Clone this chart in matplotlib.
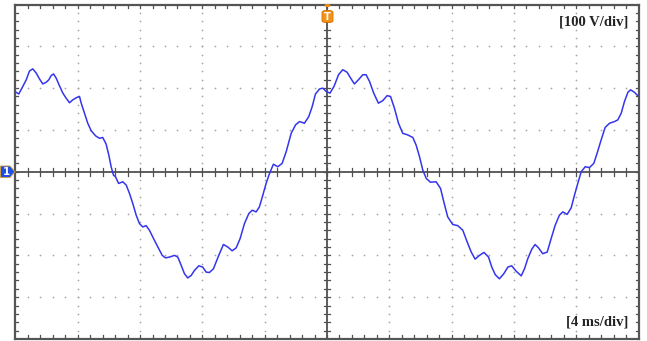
import numpy as np
import matplotlib
matplotlib.use("Agg")
import matplotlib.pyplot as plt
from matplotlib.patches import Polygon, Circle, FancyBboxPatch

# Captured phase voltage trace: time (ms) and voltage (V)
time_ms = [
    0.04, 0.21, 0.47, 0.69, 0.90, 1.11, 1.33, 1.54, 1.75, 1.97, 2.14, 2.29, 2.44, 2.61,
    2.82, 3.04, 3.25, 3.47, 3.68, 3.90, 4.11, 4.22, 4.43, 4.64, 4.86, 5.14, 5.39, 5.60,
    5.82, 5.99, 6.14, 6.29, 6.42, 6.62, 6.89, 7.11, 7.32, 7.53, 7.75, 7.96, 8.17, 8.39,
    8.60, 8.92, 9.20, 9.42, 9.63, 9.89, 10.21, 10.42, 10.64, 10.85, 11.06, 11.28, 11.49,
    11.77, 12.02, 12.24, 12.45, 12.71, 13.05, 13.35, 13.63, 13.91, 14.17, 14.42, 14.70,
    14.98, 15.20, 15.45, 15.66, 15.88, 16.09, 16.31, 16.56, 16.84, 17.12, 17.38, 17.70,
    17.98, 18.23, 18.55, 18.83, 19.05, 19.26, 19.52, 19.73, 19.95, 20.19, 20.45, 20.74,
    21.01, 21.29, 21.55, 21.76, 22.02, 22.30, 22.51, 22.73, 23.00, 23.30, 23.58, 23.86,
    24.08, 24.33, 24.59, 24.86, 25.19, 25.51, 25.72, 25.94, 26.15, 26.37, 26.64, 27.01,
    27.29, 27.50, 27.75, 28.07, 28.40, 28.72, 29.00, 29.26, 29.51, 29.79, 30.08, 30.37,
    30.58, 30.80, 31.07, 31.35, 31.61, 31.86, 32.15, 32.47, 32.68, 32.89, 33.15, 33.36,
    33.58, 33.85, 34.14, 34.39, 34.65, 34.92, 35.14, 35.42, 35.68, 35.89, 36.10, 36.32,
    36.58, 36.85, 37.13, 37.34, 37.60, 37.86, 38.14, 38.46, 38.67, 38.89, 39.10, 39.32,
    39.49, 39.74, 39.95,
]
voltage_v = [
    190, 186, 204, 220, 241, 246, 236, 222, 210, 214, 220, 230, 234, 224,
    206, 188, 176, 165, 172, 177, 180, 164, 140, 116, 98, 86, 80, 82,
    66, 40, 12, -8, -12, -28, -24, -32, -52, -76, -104, -124, -132, -129,
    -140, -164, -184, -200, -206, -204, -200, -204, -224, -244, -254, -248, -236,
    -225, -228, -240, -241, -232, -200, -174, -180, -189, -182, -160, -124,
    -100, -92, -96, -84, -56, -28, -4, 18, 12, 20, 48, 92,
    112, 120, 116, 132, 156, 186, 198, 200, 192, 188, 204, 232,
    244, 238, 222, 210, 220, 232, 232, 216, 188, 164, 170, 182,
    180, 152, 116, 92, 88, 82, 64, 36, 4, -16, -25, -24,
    -40, -72, -108, -126, -129, -140, -168, -192, -209, -200, -193, -204,
    -228, -246, -256, -244, -228, -225, -238, -249, -232, -208, -185, -174,
    -182, -196, -192, -160, -128, -104, -96, -102, -86, -56, -28, 0,
    12, 10, 20, 44, 76, 106, 116, 120, 124, 140, 168, 190,
    196, 190, 182,
]

volts_per_div = 100
ms_per_div = 4
n_hdiv, n_vdiv = 10, 8
scale_labels = ["[100 V/div]", "[4 ms/div]"]

W, H = 647, 341
fig = plt.figure(figsize=(W / 100, H / 100), dpi=100)
fig.patch.set_facecolor("white")

left_px, right_px, top_px, bottom_px = 15.5, 638.5, 4.5, 339.0
ax = fig.add_axes([left_px / W, 1 - bottom_px / H,
                   (right_px - left_px) / W, (bottom_px - top_px) / H])
t_max = n_hdiv * ms_per_div
v_max = n_vdiv / 2 * volts_per_div
ax.set_xlim(0, t_max)
ax.set_ylim(-v_max, v_max)
ax.set_xticks([])
ax.set_yticks([])
for sp in ax.spines.values():
    sp.set_color("#555555")
    sp.set_linewidth(1.6)

grid_col = "#a8a8a8"
hstep = ms_per_div / 5
vstep = volts_per_div / 5

# Dotted graticule
gx, gy = [], []
for k in range(1, n_hdiv):
    if k == n_hdiv // 2:
        continue
    xv = k * ms_per_div
    for y in np.arange(-v_max + vstep, v_max, vstep):
        gx.append(xv)
        gy.append(y)
for k in range(1, n_vdiv):
    if k == n_vdiv // 2:
        continue
    yv = -v_max + k * volts_per_div
    for x in np.arange(hstep, t_max, hstep):
        gx.append(x)
        gy.append(yv)
ax.scatter(gx, gy, s=1.6, color=grid_col, linewidths=0, zorder=1)

# Centre cross with minor ticks
axis_col = "#505050"
ax.axhline(0, color=axis_col, lw=1.3, zorder=2)
ax.axvline(t_max / 2, color=axis_col, lw=1.3, zorder=2)
tick_h = 9.0   # V
tick_w = 0.18  # ms
for x in np.arange(hstep, t_max, hstep):
    ax.plot([x, x], [-tick_h, tick_h], color=axis_col, lw=0.9, zorder=2)
    ax.plot([x, x], [v_max, v_max - tick_h], color=axis_col, lw=0.9, zorder=2)
    ax.plot([x, x], [-v_max, -v_max + tick_h], color=axis_col, lw=0.9, zorder=2)
for y in np.arange(-v_max + vstep, v_max, vstep):
    ax.plot([t_max / 2 - tick_w, t_max / 2 + tick_w], [y, y], color=axis_col, lw=0.9, zorder=2)
    ax.plot([0, tick_w], [y, y], color=axis_col, lw=0.9, zorder=2)
    ax.plot([t_max, t_max - tick_w], [y, y], color=axis_col, lw=0.9, zorder=2)

# Voltage trace
ax.plot(time_ms, voltage_v, color="#3535ec", lw=1.1, zorder=3,
        solid_joinstyle="round")

# Scale annotations
txt_kw = dict(family="Liberation Serif", fontweight="bold", fontsize=10.5,
              color="#222222", ha="right", va="center")
ax.text(0.9845, 1 - 18 / (bottom_px - top_px), scale_labels[0],
        transform=ax.transAxes, **txt_kw)
ax.text(0.9845, 17 / (bottom_px - top_px), scale_labels[1],
        transform=ax.transAxes, **txt_kw)


def fpt(x, y):
    return (x / W, 1 - y / H)


# Channel 1 marker on the left edge
ch_poly = Polygon([fpt(0.5, 166.0), fpt(10, 166.0), fpt(15, 171.7),
                   fpt(10, 177.5), fpt(0.5, 177.5)], closed=True,
                  facecolor="#1f4fe0", edgecolor="#c8a050", lw=0.7,
                  transform=fig.transFigure)
fig.add_artist(ch_poly)
fig.text(6.5 / W, 1 - 171.9 / H, "1", color="white", fontsize=7.5,
         fontweight="bold", ha="center", va="center", family="DejaVu Sans")

# Trigger marker on the top edge
trig_x = 327.5
fig.add_artist(Circle(fpt(trig_x, 5.5), 3.0 / W, facecolor="#f08a10",
                      edgecolor="none", transform=fig.transFigure))
fig.add_artist(FancyBboxPatch(fpt(trig_x - 5.5, 22.5), 11 / W, 12 / H,
                              boxstyle="round,pad=0,rounding_size=0.006",
                              facecolor="#f39218", edgecolor="#d07000", lw=0.6,
                              transform=fig.transFigure))
fig.text(trig_x / W, 1 - 16.5 / H, "T", color="white", fontsize=7,
         fontweight="bold", ha="center", va="center", family="DejaVu Sans")

fig.savefig("out.png", dpi=100, facecolor="white")
